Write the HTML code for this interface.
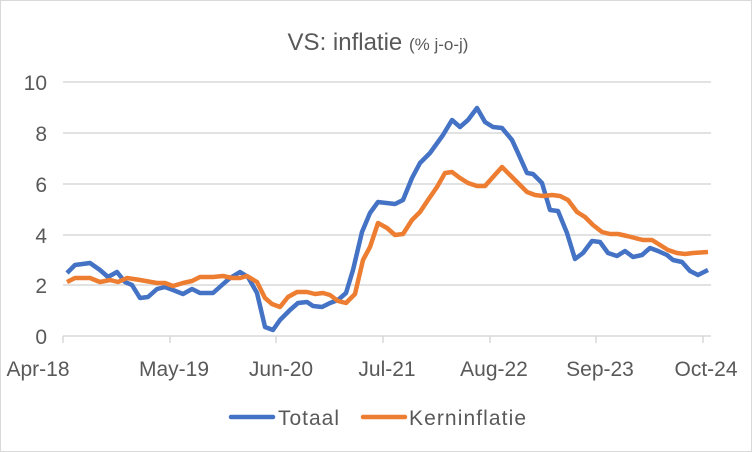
<!DOCTYPE html>
<html><head><meta charset="utf-8"><style>
html,body{margin:0;padding:0;background:#fff;}
svg{display:block;font-family:"Liberation Sans",sans-serif;}
</style></head><body>
<svg width="752" height="452" viewBox="0 0 752 452" xmlns="http://www.w3.org/2000/svg">
<rect x="0.5" y="0.5" width="751" height="451" fill="#fff" stroke="#d9d9d9"/>
<text x="378" y="50" text-anchor="middle" fill="#595959" font-size="24">VS: inflatie <tspan font-size="17">(% j-o-j)</tspan></text>
<g stroke="#d9d9d9" stroke-width="1.5">
<line x1="63" x2="711" y1="82" y2="82"/><line x1="63" x2="711" y1="133" y2="133"/>
<line x1="63" x2="711" y1="184" y2="184"/><line x1="63" x2="711" y1="235" y2="235"/>
<line x1="63" x2="711" y1="285" y2="285"/><line x1="63" x2="711" y1="336" y2="336"/>
<line x1="63" x2="63" y1="336" y2="343"/><line x1="170" x2="170" y1="336" y2="343"/>
<line x1="276" x2="276" y1="336" y2="343"/><line x1="383" x2="383" y1="336" y2="343"/>
<line x1="490" x2="490" y1="336" y2="343"/><line x1="596" x2="596" y1="336" y2="343"/>
<line x1="703" x2="703" y1="336" y2="343"/>
</g>
<g fill="#595959" font-size="21" text-anchor="end">
<text x="47" y="90">10</text><text x="47" y="141">8</text><text x="47" y="192">6</text>
<text x="47" y="243">4</text><text x="47" y="293">2</text><text x="47" y="344">0</text>
</g>
<g fill="#595959" font-size="21" text-anchor="middle">
<text x="38" y="376">Apr-18</text><text x="174" y="376">May-19</text><text x="281" y="376">Jun-20</text>
<text x="387" y="376">Jul-21</text><text x="494" y="376">Aug-22</text><text x="600" y="376">Sep-23</text>
<text x="706" y="376">Oct-24</text>
</g>
<polyline fill="none" stroke="#4472C4" stroke-width="4.5" stroke-linejoin="round" points="67,273 75,265 90,263 100,270 108,277 117,272 125,282 132,285 140,298 148,297 157,289 165,287 173,290 183,294 192,289 200,293 213,293 222,285 230,278 240,272 248,277 257,293 265,327 273,330 280,320 290,310 298,303 307,302 313,306 322,307 330,303 338,300 346,293 353,270 362,232 370,213 378,202 395,204 403,200 412,178 420,163 430,153 443,135 452,120 460,127 468,120 477,108 485,122 493,127 502,128 512,140 518,153 527,173 533,174 542,183 550,210 558,211 567,233 575,259 583,253 592,241 600,242 608,253 617,256 625,251 633,257 642,255 650,248 658,251 667,255 673,260 682,262 690,271 698,275 708,270"/>
<polyline fill="none" stroke="#ED7D31" stroke-width="4.5" stroke-linejoin="round" points="67,282 75,278 90,278 100,282 110,280 118,282 127,278 140,280 157,283 165,283 173,286 183,283 192,281 200,277 213,277 223,276 232,278 240,278 247,276 257,282 265,298 272,304 280,307 288,297 297,292 307,292 315,294 323,293 330,295 338,301 346,303 355,294 363,260 370,247 378,223 387,228 395,235 403,234 412,220 420,212 428,200 437,187 445,173 452,172 460,178 468,183 477,186 485,186 493,177 502,167 510,175 518,183 527,192 535,195 543,196 552,195 560,196 568,200 577,212 585,217 593,225 602,232 610,234 618,234 627,236 635,238 643,240 652,240 660,245 668,250 677,253 685,254 693,253 708,252"/>
<line x1="231" x2="273" y1="417" y2="417" stroke="#4472C4" stroke-width="4.5" stroke-linecap="round"/>
<text x="278" y="425" fill="#595959" font-size="21" textLength="61">Totaal</text>
<line x1="363" x2="405" y1="417" y2="417" stroke="#ED7D31" stroke-width="4.5" stroke-linecap="round"/>
<text x="409" y="425" fill="#595959" font-size="21" textLength="117">Kerninflatie</text>
</svg>
</body></html>
